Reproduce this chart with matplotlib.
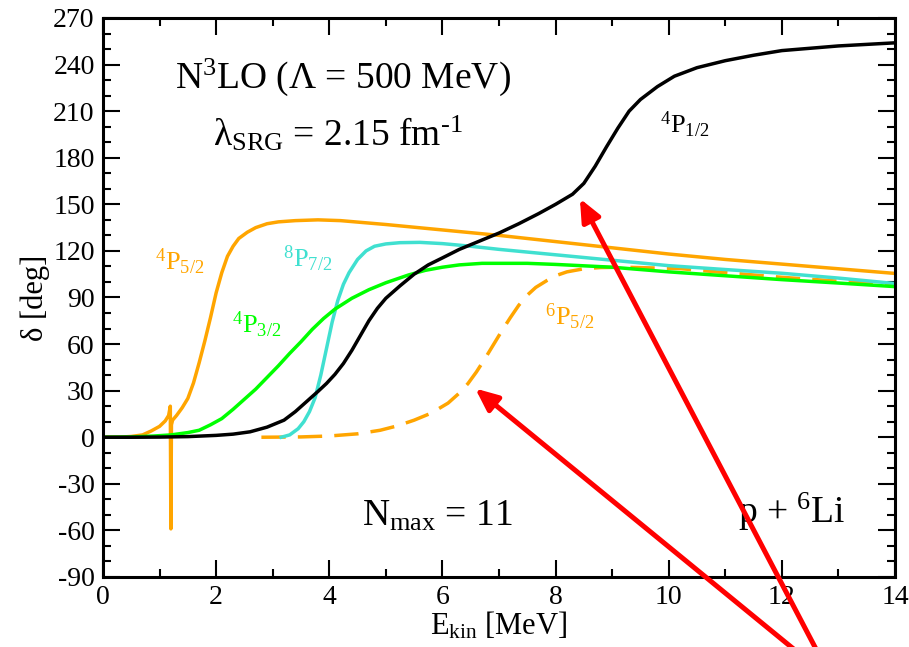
import matplotlib
matplotlib.use("Agg")
import matplotlib.pyplot as plt
from matplotlib.ticker import MultipleLocator

plt.rcParams['font.family'] = 'Liberation Serif'
plt.rcParams['mathtext.fontset'] = 'custom'
plt.rcParams['mathtext.rm'] = 'Liberation Serif'
plt.rcParams['mathtext.it'] = 'Liberation Serif'
plt.rcParams['mathtext.default'] = 'rm'
plt.rcParams['axes.unicode_minus'] = False

# --- dados (E_kin em MeV, delta em graus) ---
# 4P1/2 (preto)
e_p12 = [0, 0.5, 1.0, 1.5, 2.0, 2.3, 2.6, 2.9, 3.2, 3.4, 3.6, 3.8, 3.95, 4.1,
         4.25, 4.4, 4.55, 4.7, 4.85, 5.0, 5.25, 5.5, 5.75, 6.0, 6.3, 6.6, 7.0,
         7.35, 7.7, 8.0, 8.3, 8.5, 8.7, 8.9, 9.1, 9.3, 9.5, 9.8, 10.1, 10.5,
         11.0, 11.5, 12.0, 12.5, 13.0, 13.5, 14.0]
d_p12 = [0, 0, 0.1, 0.4, 1.2, 2, 3.5, 6.5, 11, 16.5, 23, 29.5, 34.6, 40.5,
         47.5, 56, 65.5, 75, 83, 89.5, 97.5, 105, 111, 115.5, 121, 125.5, 131.5,
         137.5, 144, 150, 156.5, 163.5, 174.5, 187, 199, 210, 217.5, 225.8, 232.5, 238,
         242.5, 246, 249, 250.5, 252, 253, 254]

# 4P5/2 (laranja, com o pico estreito perto de 1.2 MeV)
e_p52 = [0, 0.3, 0.5, 0.7, 0.85, 1.0, 1.1, 1.16, 1.19, 1.2, 1.21, 1.23, 1.3,
         1.4, 1.5, 1.6, 1.7, 1.8, 1.9, 2.0, 2.1, 2.2, 2.3, 2.4, 2.55, 2.7,
         2.9, 3.1, 3.4, 3.8, 4.2, 5.0, 6.0, 7.0, 8.0, 9.0, 10.0, 11.0, 12.0,
         13.0, 14.0]
d_p52 = [0, 0.1, 0.5, 1.5, 4, 7, 10.5, 14, 20, -59, 8, 11, 14,
         19, 25, 35, 48, 62, 77, 93, 106, 116.5, 123, 128, 132, 135,
         137.5, 138.7, 139.5, 140, 139.5, 137, 133.5, 130, 126, 122, 118, 114.5, 111.5,
         108.5, 105.5]

# 4P3/2 (verde)
e_p32 = [0, 0.5, 0.9, 1.2, 1.5, 1.7, 1.9, 2.1, 2.3, 2.5, 2.7, 2.9, 3.1, 3.3,
         3.5, 3.7, 3.9, 4.1, 4.4, 4.7, 5.0, 5.4, 5.7, 6.0, 6.3, 6.7, 7.0, 7.5,
         8.0, 9.0, 10.0, 11.0, 12.0, 13.0, 14.0]
d_p32 = [0, 0.2, 0.8, 1.5, 3, 4.5, 8, 12, 18, 24.5, 31, 38.5, 46, 54,
         61.5, 69.5, 76.5, 82.5, 89.5, 95, 99.5, 104.5, 107.5, 109.5, 111, 112, 112, 112,
         111.3, 109.5, 106.5, 104, 101.5, 99.3, 97]

# 8P7/2 (ciano)
e_p72 = [3.15, 3.3, 3.45, 3.55, 3.65, 3.75, 3.85, 3.95, 4.05, 4.15, 4.25, 4.35,
         4.5, 4.65, 4.8, 5.0, 5.25, 5.6, 6.0, 6.5, 7.0, 8.0, 9.0, 10.0, 11.0,
         12.0, 13.0, 14.0]
d_p72 = [0, 1.5, 5.5, 10, 16.5, 25.5, 40, 57, 74, 88, 98.5, 106,
         114.5, 120, 123, 124.5, 125.3, 125.5, 124.7, 123, 121, 117.5, 114, 110.5, 108,
         105.6, 102.5, 99]

# 6P5/2 (laranja tracejado)
e_6p52 = [2.8, 3.5, 4.0, 4.5, 4.9, 5.2, 5.5, 5.8, 6.1, 6.3, 6.45, 6.6, 6.75,
          6.9, 7.05, 7.2, 7.35, 7.5, 7.65, 7.85, 8.0, 8.2, 8.5, 8.8, 9.2, 10.2,
          11.0, 12.0, 13.0, 14.0]
d_6p52 = [0, 0.2, 0.8, 2.2, 4.5, 7.3, 11, 15.5, 22, 28.5, 34.5, 42, 50.5,
          59.5, 68.5, 77, 85, 91.5, 96.5, 101, 104, 106.5, 108.5, 109.3, 109.5, 108.6,
          106, 103, 100.5, 98]

orange = '#ffa500'
green = '#00ff00'
cyan = '#40e0d0'

fig = plt.figure(figsize=(9.09, 6.47), dpi=100)
ax = fig.add_axes([0.1133, 0.1082, 0.8713, 0.864])

lw = 2.5
ax.plot(e_p52, d_p52, color=orange, lw=lw)
ax.plot(e_6p52, d_6p52, color=orange, lw=lw, ls=(0, (7, 3.5)))
ax.plot(e_p72, d_p72, color=cyan, lw=lw)
ax.plot(e_p32, d_p32, color=green, lw=lw)
ax.plot(e_p12, d_p12, color='black', lw=lw)

ax.set_xlim(0, 14)
ax.set_ylim(-90, 270)
ax.xaxis.set_major_locator(MultipleLocator(2))
ax.xaxis.set_minor_locator(MultipleLocator(1))
ax.yaxis.set_major_locator(MultipleLocator(30))
ax.yaxis.set_minor_locator(MultipleLocator(10))
ax.tick_params(which='both', direction='in', top=True, right=True,
               labelsize=20, width=1.5)
ax.tick_params(which='major', length=12, pad=6)
ax.tick_params(which='minor', length=6)
for s in ax.spines.values():
    s.set_linewidth(2.2)

ax.set_xlabel('E$_{kin}$ [MeV]', fontsize=22, labelpad=0)
ax.set_ylabel('δ [deg]', fontsize=22, labelpad=2)

# textos
ax.text(1.27, 224.7, 'N$^3$LO (Λ = 500 MeV)', fontsize=27, va='baseline')
ax.text(1.94, 188, 'λ$_{SRG}$ = 2.15 fm$^{\\text{-}1}$', fontsize=27, va='baseline')
ax.text(4.58, -56.7, 'N$_{max}$ = 11', fontsize=27, va='baseline')
ax.text(11.22, -55.4, 'p + $^6$Li', fontsize=27, va='baseline')

ax.text(0.92, 107.5, '$^4$P$_{5/2}$', fontsize=19, color=orange, va='baseline')
ax.text(3.18, 109.5, '$^8$P$_{7/2}$', fontsize=19, color=cyan, va='baseline')
ax.text(2.28, 67, '$^4$P$_{3/2}$', fontsize=19, color=green, va='baseline')
ax.text(7.81, 72, '$^6$P$_{5/2}$', fontsize=19, color=orange, va='baseline')
ax.text(9.85, 195.7, '$^4$P$_{1/2}$', fontsize=19, color='black', va='baseline')

# setas vermelhas
arrow = dict(arrowstyle='-|>,head_length=0.75,head_width=0.33', color='red',
             lw=3.6, mutation_scale=18, shrinkA=0, shrinkB=0)
ax.annotate('', xy=(8.43, 153.7), xytext=(12.9, -157), arrowprops=arrow,
            annotation_clip=False)
ax.annotate('', xy=(6.58, 31.4), xytext=(12.9, -157), arrowprops=arrow,
            annotation_clip=False)

fig.savefig('out.png', dpi=100)
